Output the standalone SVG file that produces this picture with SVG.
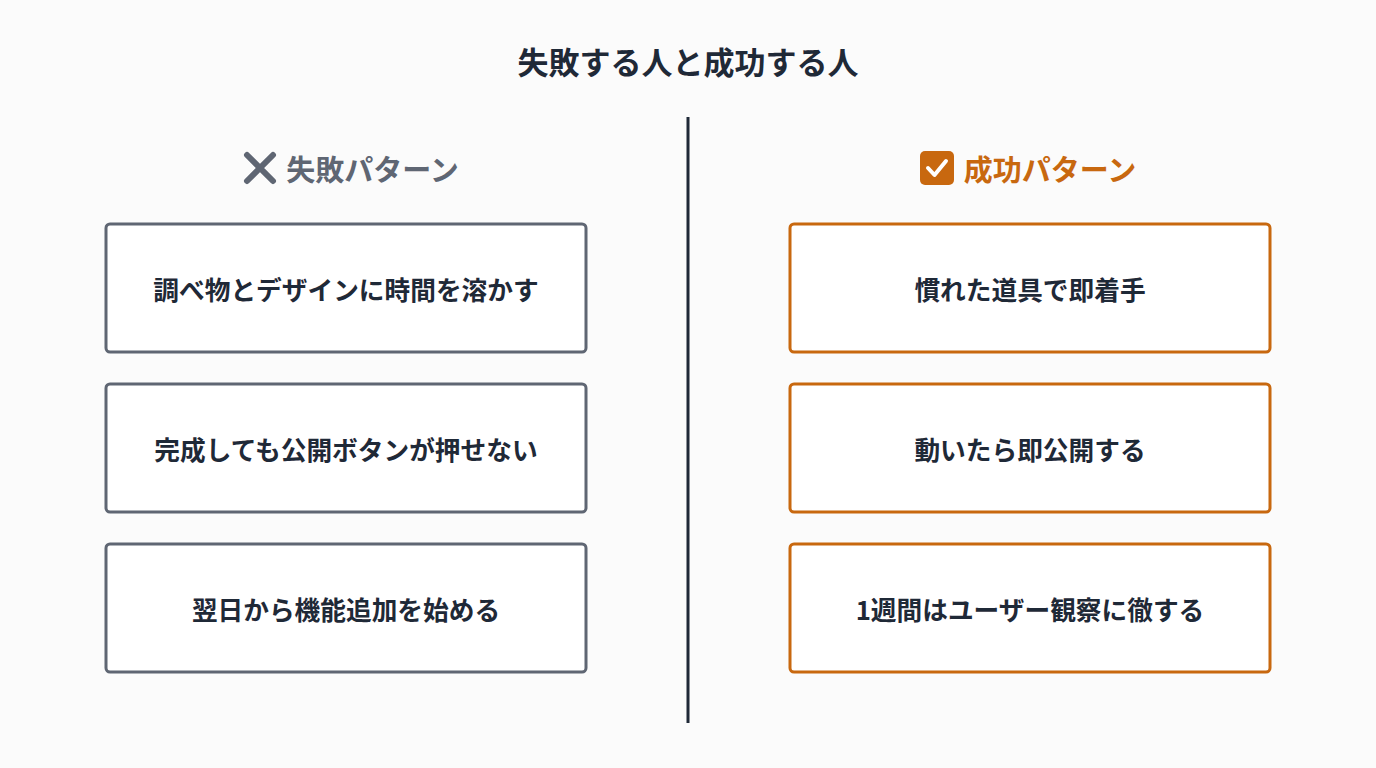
<svg xmlns="http://www.w3.org/2000/svg" width="1376" height="768" viewBox="0 0 1376 768">
<style>
text{font-family:"Noto Sans CJK JP","Noto Sans CJK SC",sans-serif;text-anchor:middle;dominant-baseline:central}
.title{font-size:31px;font-weight:700;fill:#1f2937}
.hf{font-size:29px;font-weight:700;fill:#5f6673}
.hs{font-size:29px;font-weight:700;fill:#c8680f}
.bf{fill:#fff;stroke:#5f6673;stroke-width:3}
.bs{fill:#fff;stroke:#c8680f;stroke-width:3}
.t{font-size:25.7px;font-weight:700;fill:#1f2937}
</style>
<rect width="1376" height="768" fill="#fbfbfb"/>
<text class="title" x="688" y="60">失敗する人と成功する人</text>
<g id="connectors"><line x1="688" y1="117" x2="688" y2="723" stroke="#1f2937" stroke-width="3"/></g>
<g id="header-fail">
<path d="M247 155 L273 181 M273 155 L247 181" stroke="#5f6673" stroke-width="6" stroke-linecap="round"/>
<text class="hf" x="372.5" y="168">失敗パターン</text>
</g>
<g id="header-success">
<rect x="920" y="151" width="34" height="34" rx="5" fill="#c8680f"/>
<path d="M928 168 L934.5 175 L946 161" fill="none" stroke="#fff" stroke-width="4" stroke-linecap="round" stroke-linejoin="round"/>
<text class="hs" x="1050" y="168">成功パターン</text>
</g>
<g id="f1"><rect class="bf" x="106" y="224" width="480" height="128" rx="4"/><text class="t" x="346" y="288">調べ物とデザインに時間を溶かす</text></g>
<g id="f2"><rect class="bf" x="106" y="384" width="480" height="128" rx="4"/><text class="t" x="346" y="448">完成しても公開ボタンが押せない</text></g>
<g id="f3"><rect class="bf" x="106" y="544" width="480" height="128" rx="4"/><text class="t" x="346" y="608">翌日から機能追加を始める</text></g>
<g id="s1"><rect class="bs" x="790" y="224" width="480" height="128" rx="4"/><text class="t" x="1030" y="288">慣れた道具で即着手</text></g>
<g id="s2"><rect class="bs" x="790" y="384" width="480" height="128" rx="4"/><text class="t" x="1030" y="448">動いたら即公開する</text></g>
<g id="s3"><rect class="bs" x="790" y="544" width="480" height="128" rx="4"/><text class="t" x="1030" y="608">1週間はユーザー観察に徹する</text></g>
</svg>
